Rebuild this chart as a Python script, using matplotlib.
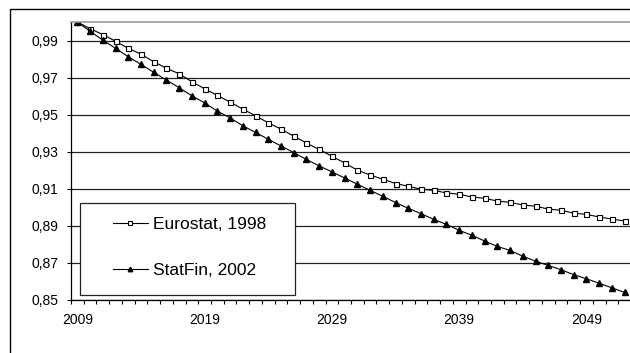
import matplotlib
matplotlib.use("Agg")
import matplotlib.pyplot as plt
from matplotlib.patches import Rectangle
from matplotlib.ticker import FixedLocator, FuncFormatter

plt.rcParams['font.family'] = ['Liberation Sans', 'DejaVu Sans']

years = list(range(2009, 2053))
eurostat = [1.0, 0.9964, 0.9932, 0.9896, 0.9858, 0.9826, 0.9785, 0.975, 0.972, 0.9677,
            0.9639, 0.9603, 0.9567, 0.9529, 0.9493, 0.9455, 0.9421, 0.9383, 0.9346, 0.9311,
            0.9274, 0.9238, 0.9199, 0.9173, 0.915, 0.9127, 0.9112, 0.9096, 0.909, 0.9076,
            0.9069, 0.9054, 0.9047, 0.9032, 0.9025, 0.9011, 0.9004, 0.8989, 0.8982, 0.8967,
            0.896, 0.8946, 0.8935, 0.8924]
statfin = [1.0, 0.995, 0.9902, 0.9858, 0.9812, 0.9771, 0.9728, 0.9686, 0.9645, 0.9601,
           0.9563, 0.9518, 0.9482, 0.9439, 0.9403, 0.9366, 0.933, 0.9294, 0.9257, 0.9222,
           0.919, 0.9157, 0.9123, 0.909, 0.9058, 0.9024, 0.8993, 0.8964, 0.8933, 0.8906,
           0.8874, 0.8847, 0.8816, 0.8787, 0.8765, 0.8734, 0.8707, 0.8684, 0.8661, 0.8634,
           0.8612, 0.8588, 0.8563, 0.8538]
labels = ["Eurostat, 1998", "StatFin, 2002"]
y_ticks = [0.85, 0.87, 0.89, 0.91, 0.93, 0.95, 0.97, 0.99]
x_label_years = [2009, 2019, 2029, 2039, 2049]

W, H = 630, 353
fig = plt.figure(figsize=(W / 100, H / 100), dpi=100)

# outer frame
fig.add_artist(Rectangle((10 / W, -0.1), 1.2, 1 - 9 / H + 0.1, transform=fig.transFigure,
                         fill=False, edgecolor='black', linewidth=1.0))

ax = fig.add_axes([71 / W, 1 - 299.5 / H, (631 - 71) / W, (299.5 - 22) / H])
idx = list(range(len(years)))
ax.plot(idx, eurostat, color='black', lw=0.8, marker='s', markersize=3.6,
        markerfacecolor='white', markeredgecolor='black', markeredgewidth=0.8, label=labels[0])
ax.plot(idx, statfin, color='black', lw=0.8, marker='^', markersize=4.3,
        markerfacecolor='black', markeredgecolor='black', label=labels[1])

ax.set_xlim(-0.5, len(years) - 0.5)
ax.set_ylim(0.85, 1.0)
ax.set_yticks(y_ticks)
ax.yaxis.set_major_formatter(FuncFormatter(lambda v, p: f"{v:.2f}".replace('.', ',')))
ax.yaxis.grid(True, color='#222222', lw=0.9)
ax.set_axisbelow(True)

ax.set_xticks([years.index(y) for y in x_label_years])
ax.set_xticklabels([str(y) for y in x_label_years])
ax.xaxis.set_minor_locator(FixedLocator([i - 0.5 for i in range(len(years) + 1)]))
ax.tick_params(axis='x', which='major', length=0, pad=9.5, labelsize=10)
ax.tick_params(axis='x', which='minor', length=3, width=0.8, direction='out')
ax.tick_params(axis='y', which='major', length=3, width=0.8, direction='out', pad=6, labelsize=10)

ax.spines['right'].set_visible(False)
ax.spines['top'].set_color('#999999')
ax.spines['top'].set_linewidth(1.2)
ax.spines['left'].set_linewidth(0.9)
ax.spines['bottom'].set_linewidth(0.9)

# legend box
fig.add_artist(Rectangle((80 / W, 1 - 295 / H), (295 - 80) / W, (295 - 203) / H,
                         transform=fig.transFigure, facecolor='white', edgecolor='#222222',
                         linewidth=0.9, zorder=3))
leg = fig.legend(loc='center left', bbox_to_anchor=(113 / W, 1 - 247.5 / H), frameon=False,
                 fontsize=12.5, handlelength=2.0, handletextpad=0.3, labelspacing=1.74,
                 borderpad=0, borderaxespad=0, markerscale=0.75)
leg.set_zorder(4)

fig.savefig('out.png', dpi=100)
